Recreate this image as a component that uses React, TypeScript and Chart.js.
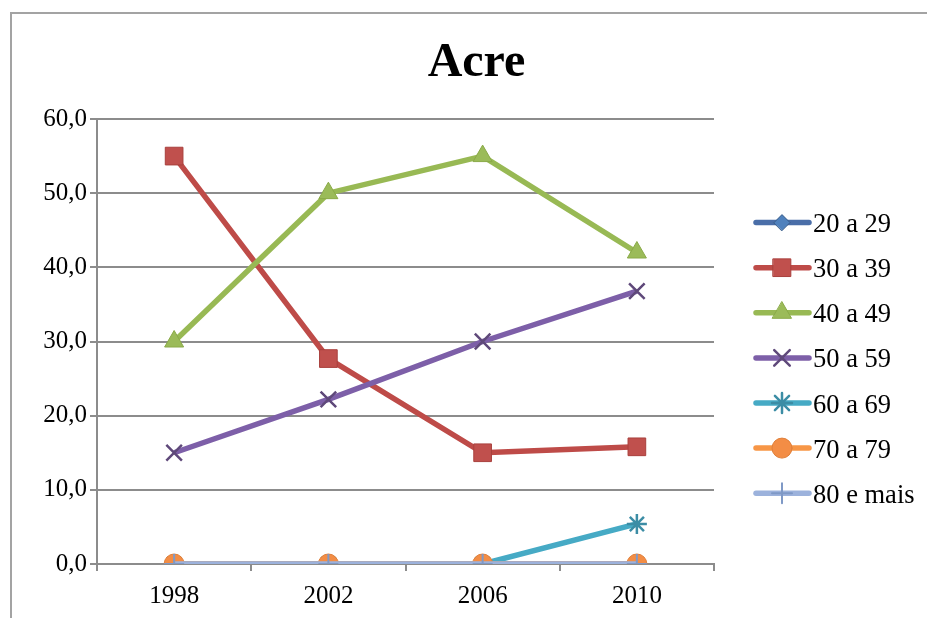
import React, { useEffect, useRef } from 'react';
import { Chart, registerables } from 'chart.js';
import { drawPoint } from 'chart.js/helpers';

Chart.register(...registerables);

const TITLE = 'Acre';
const years = ['1998', '2002', '2006', '2010'];
const seriesNames = ['20 a 29', '30 a 39', '40 a 49', '50 a 59', '60 a 69', '70 a 79', '80 e mais'];
const s20a29 = [0, 0, 0, 0];
const s30a39 = [55.0, 27.7, 15.0, 15.8];
const s40a49 = [30.0, 50.0, 55.0, 42.0];
const s50a59 = [15.0, 22.2, 30.0, 36.8];
const s60a69 = [0, 0, 0, 5.4];
const s70a79 = [0, 0, 0, 0];
const s80mais = [0, 0, 0, 0];
const yTicks = [0, 10, 20, 30, 40, 50, 60];

const seriesValues = [s20a29, s30a39, s40a49, s50a59, s60a69, s70a79, s80mais];

const lineColors = ['#4A6EA8', '#BE4B48', '#98B954', '#7D5FA8', '#46AAC5', '#F79646', '#9CB2DC'];
const markerFill = ['#4F81BD', '#C0504D', '#9BBB59', '#5F497A', '#4BACC6', '#F38D45', '#8FA9D6'];
const markerStroke = ['#385D8A', '#A9403D', '#8AAA48', '#5F497A', '#3C8DA5', '#E0803A', '#7F99C6'];
const markerStyles = ['rectRot', 'rect', 'triangle', 'crossRot', 'star', 'circle', 'cross'];
const markerRadius = [8, 12.5, 11, 11, 10, 10, 10];
const markerBorder = [1, 1, 1, 2.5, 2.5, 1, 2];

const SERIF = '"Liberation Serif", "Times New Roman", serif';

const decorPlugin = {
  id: 'decor',
  beforeDraw(chart: any) {
    const ctx = chart.ctx;
    ctx.save();
    ctx.fillStyle = '#ffffff';
    ctx.fillRect(0, 0, chart.width, chart.height);
    ctx.restore();
  },
  afterDraw(chart: any) {
    const ctx = chart.ctx;
    ctx.save();
    // outer frame
    ctx.strokeStyle = '#a3a3a3';
    ctx.lineWidth = 2;
    ctx.strokeRect(11, 13, 960, 660);
    // title
    ctx.fillStyle = '#000';
    ctx.font = 'bold 48px ' + SERIF;
    ctx.textAlign = 'center';
    ctx.textBaseline = 'alphabetic';
    ctx.fillText(TITLE, 476.5, 76);
    // legend
    chart.data.datasets.forEach((ds: any, i: number) => {
      const y = 222.6 + i * 45.1;
      ctx.save();
      ctx.strokeStyle = ds.borderColor;
      ctx.lineWidth = 5.5;
      ctx.lineCap = 'round';
      ctx.beginPath();
      ctx.moveTo(756, y);
      ctx.lineTo(809, y);
      ctx.stroke();
      ctx.fillStyle = ds.pointBackgroundColor;
      ctx.strokeStyle = ds.pointBorderColor;
      ctx.lineWidth = ds.pointBorderWidth;
      drawPoint(ctx, { pointStyle: ds.pointStyle, rotation: 0, radius: ds.pointRadius, borderWidth: ds.pointBorderWidth }, 782, y);
      ctx.restore();
      ctx.fillStyle = '#000';
      ctx.font = '26.5px ' + SERIF;
      ctx.textAlign = 'left';
      ctx.textBaseline = 'alphabetic';
      ctx.fillText(ds.label, 813, y + 9.5);
    });
    ctx.restore();
  },
};

export default function App() {
  const canvasRef = useRef<HTMLCanvasElement | null>(null);

  useEffect(() => {
    const canvas = canvasRef.current;
    if (!canvas) return;
    const datasets = seriesNames.map((name, i) => ({
      label: name,
      data: seriesValues[i],
      borderColor: lineColors[i],
      backgroundColor: lineColors[i],
      borderWidth: 5.5,
      pointStyle: markerStyles[i],
      pointRadius: markerRadius[i],
      pointHoverRadius: markerRadius[i],
      pointBackgroundColor: markerFill[i],
      pointBorderColor: markerStroke[i],
      pointBorderWidth: markerBorder[i],
      tension: 0,
      fill: false,
      order: seriesNames.length - i,
    }));

    const chart = new Chart(canvas, {
      type: 'line',
      data: { labels: years, datasets },
      options: {
        animation: false,
        responsive: false,
        maintainAspectRatio: false,
        devicePixelRatio: 1,
        layout: { padding: { left: 0, top: 119, right: 213, bottom: 0 } },
        plugins: {
          legend: { display: false },
          title: { display: false },
          tooltip: { enabled: false },
        },
        scales: {
          x: {
            type: 'category',
            offset: true,
            afterFit: (s: any) => { s.height = 54; },
            grid: {
              offset: true,
              drawOnChartArea: false,
              drawTicks: true,
              tickLength: 7,
              color: '#8c8c8c',
              lineWidth: 2,
            },
            border: { display: true, color: '#8c8c8c', width: 2 },
            ticks: {
              color: '#000',
              font: { family: SERIF, size: 25 },
              padding: 10,
              maxRotation: 0,
            },
          },
          y: {
            min: 0,
            max: 60,
            afterFit: (s: any) => { s.width = 97; },
            afterBuildTicks: (s: any) => { s.ticks = yTicks.map((v) => ({ value: v })); },
            grid: {
              color: '#8c8c8c',
              lineWidth: 2,
              tickLength: 7,
            },
            border: { display: true, color: '#8c8c8c', width: 2 },
            ticks: {
              color: '#000',
              font: { family: SERIF, size: 25 },
              padding: 3,
              callback: (v: any) => Number(v).toFixed(1).replace('.', ','),
            },
          },
        },
      },
      plugins: [decorPlugin],
    });
    return () => chart.destroy();
  }, []);

  return (
    <div style={{ position: 'absolute', left: 0, top: 0, width: 927, height: 618, background: '#fff' }}>
      <canvas ref={canvasRef} width={927} height={618} style={{ display: 'block', width: 927, height: 618 }} />
    </div>
  );
}
